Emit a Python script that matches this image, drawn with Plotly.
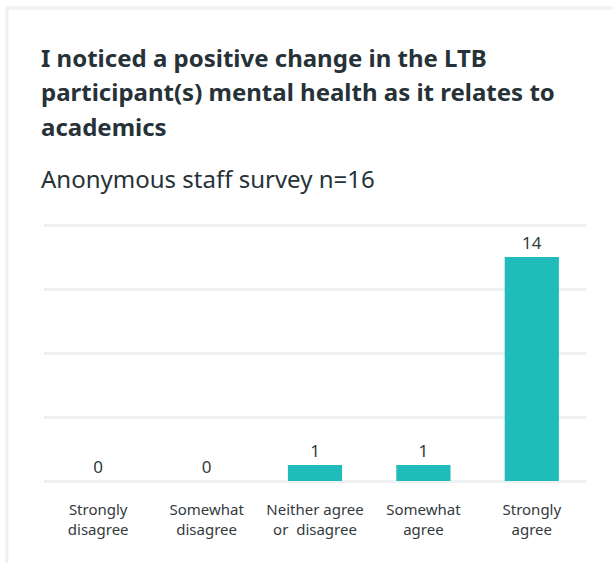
import plotly.graph_objects as go

categories = ["Strongly<br>disagree", "Somewhat<br>disagree", "Neither agree<br>or  disagree",
              "Somewhat<br>agree", "Strongly<br>agree"]
counts = [0, 0, 1, 1, 14]

title_lines = [
    "I noticed a positive change in the LTB",
    "participant(s) mental health as it relates to",
    "academics",
]
subtitle = "Anonymous staff survey n=16"

W, H = 613, 563
L, R, T, B = 44, 27, 217, 82
plot_h = H - T - B
FONT = "Noto Sans"


def py(pix):
    # pixel y from top -> paper coordinate
    return (H - B - pix) / plot_h


def px_(pix):
    return (pix - L) / (W - L - R)


fig = go.Figure()
fig.add_trace(go.Bar(
    x=categories, y=counts, width=0.5,
    marker=dict(color="#1fbcba", line=dict(width=0)),
    text=[str(c) for c in counts], textposition="outside",
    textfont=dict(size=17, color="#333a3d", family=FONT),
    cliponaxis=False, hoverinfo="skip",
))

annotations = []
for i, line in enumerate(title_lines):
    annotations.append(dict(
        text="<b>" + line + "</b>", x=px_(39), y=py(57 + i * 34.5),
        xref="paper", yref="paper", xanchor="left", yanchor="middle",
        showarrow=False, font=dict(size=24, color="#263238", family=FONT),
    ))
annotations.append(dict(
    text=subtitle, x=px_(39), y=py(178), xref="paper", yref="paper",
    xanchor="left", yanchor="middle", showarrow=False,
    font=dict(size=24, color="#263238", family=FONT),
))
fig.update_layout(
    width=W, height=H, margin=dict(l=L, r=R, t=T, b=B),
    paper_bgcolor="white", plot_bgcolor="white",
    showlegend=False, annotations=annotations,
    font=dict(family=FONT, color="#333a3d"),
    bargap=0.5,
    shapes=[
        dict(type="line", xref="paper", yref="paper", x0=px_(6), x1=px_(613),
             y0=py(8), y1=py(8), line=dict(color="#eef1f1", width=3)),
        dict(type="line", xref="paper", yref="paper", x0=px_(7), x1=px_(7),
             y0=py(8), y1=py(563), line=dict(color="#eef1f1", width=3)),
    ],
)
fig.update_xaxes(showgrid=False, showline=False, ticks="",
                 tickfont=dict(size=15, color="#333a3d"), ticklabelstandoff=18)
fig.update_yaxes(range=[0, 16.5], tickvals=[0, 4, 8, 12, 16], showticklabels=False,
                 gridcolor="#eef1f1", gridwidth=3, zeroline=True, zerolinecolor="#eef1f1",
                 zerolinewidth=3, showline=False, ticks="")

fig.write_html("out.html", config={"displayModeBar": False},
               post_script="document.body.style.margin='0';")
